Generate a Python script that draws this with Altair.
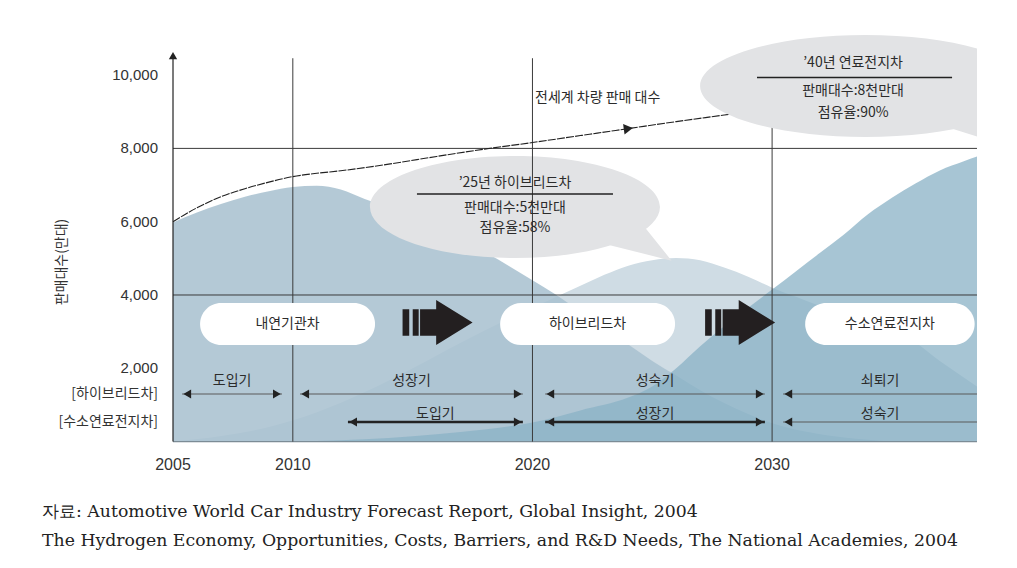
import altair as alt
import pandas as pd

# ---------------- data ----------------
total_years = [2005, 2006, 2007, 2008, 2009, 2010, 2011, 2012, 2014, 2016, 2018, 2020, 2022, 2024, 2026, 2028, 2029]
total_sales = [6000, 6380, 6680, 6900, 7080, 7230, 7320, 7390, 7570, 7780, 7980, 8160, 8350, 8540, 8730, 8910, 9000]

ice_years = [2005, 2006, 2007, 2008, 2009, 2010, 2011, 2012, 2013, 2014, 2015, 2016, 2017, 2018, 2019,
             2020, 2021, 2022, 2023, 2024, 2025, 2026, 2027, 2028, 2029, 2030, 2032, 2034, 2035]
ice_sales = [5980, 6250, 6480, 6680, 6830, 6950, 6980, 6880, 6620, 6380, 6100, 5800, 5500, 5180, 4800,
             4400, 4000, 3550, 3100, 2650, 2200, 1800, 1400, 1050, 750, 500, 200, 50, 0]

hyb_years = [2005, 2007, 2009, 2011, 2013, 2015, 2017, 2019, 2021, 2022, 2023, 2024, 2025, 2026, 2027,
             2028, 2029, 2030, 2031, 2032, 2033, 2034, 2035, 2036, 2037, 2038, 2038.55]
hyb_sales = [0, 150, 400, 800, 1350, 2000, 2700, 3350, 3950, 4250, 4550, 4800, 4950, 5010, 4950,
             4750, 4500, 4200, 3950, 3700, 3500, 3300, 3100, 2700, 2200, 1750, 1500]

fc_years = [2010, 2012, 2014, 2016, 2018, 2020, 2022, 2024, 2025, 2026, 2027, 2028, 2029, 2030,
            2031, 2032, 2033, 2034, 2035, 2036, 2037, 2038, 2038.55]
fc_sales = [0, 40, 100, 200, 330, 520, 850, 1200, 1500, 2000, 2600, 3150, 3650, 4150,
            4650, 5150, 5650, 6200, 6650, 7050, 7400, 7650, 7780]

x_ticks = [2005, 2010, 2020, 2030]
y_ticks = [2000, 4000, 6000, 8000, 10000]
v_grid = [2010, 2020, 2030]
h_grid = [4000, 8000]

stage_names = ["내연기관차", "하이브리드차", "수소연료전지차"]
stage_start = [2006.13, 2018.65, 2031.38]
stage_end = [2013.43, 2025.95, 2038.45]
stage_low, stage_high = 2636, 3782

row_names = ["[하이브리드차]", "[수소연료전지차]"]
row_level = [1299, 535]
row_label_level = [1640, 753]

hyb_phase = ["도입기", "성장기", "성숙기", "쇠퇴기"]
hyb_phase_start = [2005.38, 2010.30, 2020.53, 2030.46]
hyb_phase_end = [2009.55, 2019.60, 2029.70, 2038.55]

fc_phase = ["도입기", "성장기", "성숙기"]
fc_phase_start = [2012.30, 2020.53, 2030.46]
fc_phase_end = [2019.60, 2029.70, 2038.55]

callout1_lines = ["’25년 하이브리드차", "판매대수:5천만대", "점유율:58%"]
callout1_levels = [7048, 6366, 5820]
callout1_center = (2019.27, 6401)
callout1_rule = (2015.18, 2023.36, 6753)

callout2_lines = ["’40년 연료전지차", "판매대수:8천만대", "점유율:90%"]
callout2_levels = [10330, 9563, 8963]
callout2_center = (2033.88, 9703)
callout2_text_x = 2033.38
callout2_rule = (2029.37, 2037.51, 9935)

line_label = "전세계 차량 판매 대수"
line_label_pos = (2020.11, 9375)
line_arrow_year = 2024

y_title = "판매대수(만대)"
source_lines = [
    "자료: Automotive World Car Industry Forecast Report, Global Insight, 2004",
    "The Hydrogen Economy, Opportunities, Costs, Barriers, and R&D Needs, The National Academies, 2004",
]

# ---------------- scales / helpers ----------------
X_MIN, X_MAX = 2005, 2038.55
Y_MAX = 11214
W, H = 804, 411
xs = alt.Scale(domain=[X_MIN, X_MAX], nice=False, zero=False)
ys = alt.Scale(domain=[0, Y_MAX], nice=False, zero=True)
KFONT = "Noto Sans CJK KR"
NFONT = "Liberation Sans"
SFONT = "DejaVu Serif"
TXT = "#2b2b2b"


def ex(f="x"):
    return alt.X(f"{f}:Q", scale=xs, axis=None)


def ey(f="y"):
    return alt.Y(f"{f}:Q", scale=ys, axis=None)


# ---------------- areas ----------------
ice_df = pd.DataFrame({"x": ice_years, "y": ice_sales})
hyb_df = pd.DataFrame({"x": hyb_years, "y": hyb_sales})
fc_df = pd.DataFrame({"x": fc_years, "y": fc_sales})
tot_df = pd.DataFrame({"x": total_years, "y": total_sales})

hyb = alt.Chart(hyb_df).mark_area(color="#cfdce4", interpolate="monotone").encode(x=ex(), y=ey())
ice = alt.Chart(ice_df).mark_area(color="#aac2d0", opacity=0.88, interpolate="monotone").encode(x=ex(), y=ey())
fc = alt.Chart(fc_df).mark_area(color="#8ab2c6", opacity=0.75, interpolate="monotone").encode(x=ex(), y=ey())

# ---------------- axes drawn as marks ----------------
xaxis_line = alt.Chart(pd.DataFrame({"x0": [X_MIN], "x1": [X_MAX], "y": [0]})).mark_rule(
    color="#7c8c96", strokeWidth=1.2).encode(x=ex("x0"), x2="x1", y=ey())
xlab = alt.Chart(pd.DataFrame({"x": x_ticks, "t": [str(v) for v in x_ticks]})).mark_text(
    font=NFONT, fontSize=16, color="#333", baseline="middle").encode(
    x=ex(), y=alt.value(434), text="t:N")
ylab = alt.Chart(pd.DataFrame({"y": y_ticks, "t": [f"{v:,}" for v in y_ticks]})).mark_text(
    font=NFONT, fontSize=15, color="#333", align="right", baseline="middle").encode(
    x=alt.value(-15), y=ey(), text="t:N")

# ---------------- callout shapes ----------------
K = 0.5523


def bubble(e, tail):
    (ax, ay), (bx, by), (cx, cy) = tail
    return (f"M-1,0 C-1,{-K*e:.4f} {-K},{-e:.4f} 0,{-e:.4f} C{K},{-e:.4f} 1,{-K*e:.4f} 1,0 "
            f"C1,{K*e:.4f} {K},{e:.4f} 0,{e:.4f} C{-K},{e:.4f} -1,{K*e:.4f} -1,0 Z "
            f"M{ax},{ay} L{bx},{by} L{cx},{cy} Z")


b1 = alt.Chart(pd.DataFrame({"x": [callout1_center[0]], "y": [callout1_center[1]]})).mark_point(
    shape=bubble(0.352, [(0.60, 0.25), (0.88, 0.12), (1.08, 0.37)]), size=84100, filled=True,
    color="#e2e3e5", opacity=1, strokeWidth=0).encode(x=ex(), y=ey())
b2 = alt.Chart(pd.DataFrame({"x": [callout2_center[0]], "y": [callout2_center[1]]})).mark_point(
    shape=bubble(0.309, [(0.50, 0.25), (0.80, 0.15), (0.85, 0.36)]), size=108900, filled=True,
    color="#e2e3e5", opacity=1, strokeWidth=0, clip=True).encode(x=ex(), y=ey())

# ---------------- grid lines / axis line ----------------
vg = alt.Chart(pd.DataFrame({"x": v_grid, "y0": [0] * len(v_grid), "y1": [10460] * len(v_grid)})).mark_rule(
    color="#3a3a3a", strokeWidth=1).encode(x=ex(), y=ey("y0"), y2="y1")
hg = alt.Chart(pd.DataFrame({"y": h_grid, "x0": [X_MIN] * len(h_grid), "x1": [X_MAX] * len(h_grid)})).mark_rule(
    color="#3a3a3a", strokeWidth=1).encode(y=ey(), x=ex("x0"), x2="x1")
yaxis_line = alt.Chart(pd.DataFrame({"x": [X_MIN], "y0": [0], "y1": [10450]})).mark_rule(
    color="#222", strokeWidth=1.2).encode(x=ex(), y=ey("y0"), y2="y1")
yaxis_head = alt.Chart(pd.DataFrame({"x": [X_MIN], "y": [10530]})).mark_point(
    shape="triangle-up", size=70, filled=True, color="#222", opacity=1).encode(x=ex(), y=ey())

# ---------------- total line ----------------
tot = alt.Chart(tot_df).mark_line(color="#222", strokeWidth=1.1, strokeDash=[8, 1.2],
                                  interpolate="monotone").encode(x=ex(), y=ey())
arr_val = total_sales[total_years.index(line_arrow_year)]
tot_arrow = alt.Chart(pd.DataFrame({"x": [line_arrow_year], "y": [arr_val]})).mark_point(
    shape="triangle-right", size=110, angle=352, filled=True, color="#222", opacity=1).encode(x=ex(), y=ey())
tot_label = alt.Chart(pd.DataFrame({"x": [line_label_pos[0]], "y": [line_label_pos[1]], "t": [line_label]})).mark_text(
    font=KFONT, fontSize=14, color=TXT, align="left", baseline="middle").encode(x=ex(), y=ey(), text="t:N")

# ---------------- stage pills ----------------
pill_df = pd.DataFrame({"x0": stage_start, "x1": stage_end, "name": stage_names,
                        "y0": [stage_low] * 3, "y1": [stage_high] * 3})
pill_df["xm"] = (pill_df.x0 + pill_df.x1) / 2
pill_df["ym"] = (stage_low + stage_high) / 2
pills = alt.Chart(pill_df).mark_rect(color="white", cornerRadius=21).encode(
    x=ex("x0"), x2="x1", y=ey("y0"), y2="y1")
pill_text = alt.Chart(pill_df).mark_text(font=KFONT, fontSize=14, color=TXT, baseline="middle").encode(
    x=ex("xm"), y=ey("ym"), text="name:N")

ARROW = ("M-1,-0.38 L-0.81,-0.38 L-0.81,0.38 L-1,0.38 Z "
         "M-0.71,-0.38 L-0.54,-0.38 L-0.54,0.38 L-0.71,0.38 Z "
         "M-0.5,-0.38 L-0.04,-0.38 L-0.04,-0.64 L1,0 L-0.04,0.64 L-0.04,0.38 L-0.5,0.38 Z")
fat_df = pd.DataFrame({"x": [(stage_end[i] + stage_start[i + 1]) / 2 for i in range(2)],
                       "y": [(stage_low + stage_high) / 2 + 40] * 2})
fat = alt.Chart(fat_df).mark_point(shape=ARROW, size=4900, filled=True, color="#231f20",
                                   opacity=1, strokeWidth=0).encode(x=ex(), y=ey())

# ---------------- phase arrows ----------------
HEAD = 5.16 / (W / (X_MAX - X_MIN))


def phase_frames(names, starts, ends, lvl, lbl):
    seg = pd.DataFrame({"x0": starts, "x1": ends, "y": [lvl] * len(names), "name": names,
                        "ly": [lbl] * len(names)})
    seg["xm"] = (seg.x0 + seg.x1) / 2
    left = pd.DataFrame({"x": [s + HEAD for s in starts], "y": [lvl] * len(names)})
    right = pd.DataFrame({"x": [e - HEAD for e in ends if e < X_MAX - 0.1],
                          "y": [lvl] * sum(e < X_MAX - 0.1 for e in ends)})
    return seg, left, right


def phase_layers(seg, left, right, color, width):
    lines = alt.Chart(seg).mark_rule(color=color, strokeWidth=width).encode(x=ex("x0"), x2="x1", y=ey())
    lh = alt.Chart(left).mark_point(shape="triangle-left", size=80, filled=True, color="#222",
                                    opacity=1).encode(x=ex(), y=ey())
    rh = alt.Chart(right).mark_point(shape="triangle-right", size=80, filled=True, color="#222",
                                     opacity=1).encode(x=ex(), y=ey())
    return [lines, lh, rh]


hseg, hl, hr = phase_frames(hyb_phase, hyb_phase_start, hyb_phase_end, row_level[0], row_label_level[0])
fseg, fl, fr = phase_frames(fc_phase, fc_phase_start, fc_phase_end, row_level[1], row_label_level[1])

phase = []
phase += phase_layers(hseg, hl, hr, "#5a5a5a", 1.2)
phase += phase_layers(fseg.iloc[:2], fl.iloc[:2], fr, "#222", 2.4)
phase += phase_layers(fseg.iloc[2:], fl.iloc[2:], fr.iloc[0:0], "#5a5a5a", 1.2)
phase_lbl_df = pd.concat([hseg, fseg])
phase_lbl = alt.Chart(phase_lbl_df).mark_text(font=KFONT, fontSize=14, color=TXT, baseline="middle").encode(
    x=ex("xm"), y=ey("ly"), text="name:N")

row_lbl = alt.Chart(pd.DataFrame({"y": row_level, "t": row_names})).mark_text(
    font=KFONT, fontSize=14, color="#333", align="right", baseline="middle").encode(
    x=alt.value(-15), y=ey(), text="t:N")

# ---------------- callout texts ----------------
c1 = pd.DataFrame({"x": [callout1_center[0]] * 3, "y": callout1_levels, "t": callout1_lines})
c2 = pd.DataFrame({"x": [callout2_text_x] * 3, "y": callout2_levels, "t": callout2_lines})
ctext = alt.Chart(pd.concat([c1, c2])).mark_text(font=KFONT, fontSize=14, color=TXT, baseline="middle").encode(
    x=ex(), y=ey(), text="t:N")
c_rules = alt.Chart(pd.DataFrame({"x0": [callout1_rule[0], callout2_rule[0]],
                                  "x1": [callout1_rule[1], callout2_rule[1]],
                                  "y": [callout1_rule[2], callout2_rule[2]]})).mark_rule(
    color="#222", strokeWidth=1.5).encode(x=ex("x0"), x2="x1", y=ey())

# ---------------- titles / source ----------------
ytitle = alt.Chart(pd.DataFrame({"y": [4900], "t": [y_title]})).mark_text(
    font=KFONT, fontSize=14, color="#333", angle=270, baseline="middle").encode(
    x=alt.value(-111), y=ey(), text="t:N")
src = alt.Chart(pd.DataFrame({"py": [481, 510], "t": source_lines})).mark_text(
    font=SFONT, fontSize=17.3, color="#222", align="left", baseline="middle").encode(
    x=alt.value(-131), y=alt.Y("py:Q", scale=None, axis=None), text="t:N")

chart = alt.layer(
    hyb, ice, fc, xaxis_line, b1, vg, hg, tot, tot_arrow, b2, yaxis_line, yaxis_head, tot_label,
    xlab, ylab, pills, pill_text, fat, *phase, phase_lbl, row_lbl, c_rules, ctext, ytitle, src,
).properties(
    width=W, height=H,
    padding={"left": 165, "top": 22.6, "right": 30, "bottom": 110},
    autosize="none",
).configure_view(stroke=None)

chart.save("out.html", embed_options={"renderer": "svg", "actions": False})
